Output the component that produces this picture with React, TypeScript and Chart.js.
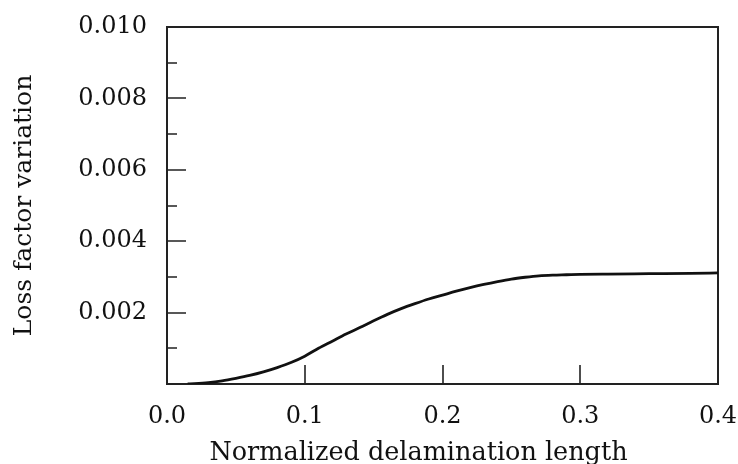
import { useEffect, useRef } from "react";
import { Chart, registerables } from "chart.js";

Chart.register(...registerables);

const delaminationLength = [
  0.015, 0.02, 0.03, 0.04, 0.05, 0.06, 0.07, 0.08, 0.09, 0.1, 0.11, 0.12, 0.13,
  0.14, 0.15, 0.16, 0.17, 0.18, 0.19, 0.2, 0.21, 0.22, 0.23, 0.24, 0.25, 0.26,
  0.27, 0.28, 0.29, 0.3, 0.32, 0.35, 0.38, 0.4,
];
const lossFactorVariation = [
  0.0, 0.00001, 0.00004, 0.00009, 0.00016, 0.00024, 0.00034, 0.00046, 0.0006,
  0.00078, 0.001, 0.0012, 0.0014, 0.00158, 0.00177, 0.00195, 0.00211, 0.00225,
  0.00238, 0.00249, 0.0026, 0.0027, 0.00279, 0.00287, 0.00294, 0.00299,
  0.00303, 0.00305, 0.00306, 0.00307, 0.00308, 0.00309, 0.0031, 0.00311,
];
const yMajorTicks = [0.002, 0.004, 0.006, 0.008];
const yMinorTicks = [0.001, 0.003, 0.005, 0.007, 0.009];
const xMajorTicks = [0.1, 0.2, 0.3];
const xTitle = "Normalized delamination length";
const yTitle = "Loss factor variation";

const FONT = '"DejaVu Serif", serif';

const framePlugin = {
  id: "frame",
  beforeDatasetsDraw(chart: any) {
    const { ctx, chartArea: a, scales } = chart;
    const x = scales.x;
    const y = scales.y;
    ctx.save();
    ctx.strokeStyle = "#222";
    ctx.lineWidth = 2;
    ctx.strokeRect(a.left, a.top, a.right - a.left, a.bottom - a.top);
    ctx.lineWidth = 1.6;
    ctx.beginPath();
    for (const v of yMajorTicks) {
      const py = Math.round(y.getPixelForValue(v));
      ctx.moveTo(a.left, py);
      ctx.lineTo(a.left + 19, py);
    }
    for (const v of yMinorTicks) {
      const py = Math.round(y.getPixelForValue(v));
      ctx.moveTo(a.left, py);
      ctx.lineTo(a.left + 10, py);
    }
    for (const v of xMajorTicks) {
      const px = Math.round(x.getPixelForValue(v));
      ctx.moveTo(px, a.bottom);
      ctx.lineTo(px, a.bottom - 19);
    }
    ctx.stroke();
    ctx.fillStyle = "#111";
    ctx.font = `25.5px ${FONT}`;
    ctx.textAlign = "center";
    ctx.textBaseline = "alphabetic";
    ctx.fillText(xTitle, (a.left + a.right) / 2 - 24, 460);
    ctx.restore();
  },
};

export default function App() {
  const canvasRef = useRef<HTMLCanvasElement | null>(null);

  useEffect(() => {
    if (!canvasRef.current) return;
    const chart = new Chart(canvasRef.current, {
      type: "line",
      data: {
        datasets: [
          {
            data: delaminationLength.map((v, i) => ({ x: v, y: lossFactorVariation[i] })),
            borderColor: "#111",
            borderWidth: 2.8,
            pointRadius: 0,
            cubicInterpolationMode: "monotone",
            fill: false,
          },
        ],
      },
      options: {
        animation: false,
        responsive: true,
        maintainAspectRatio: false,
        layout: { padding: { top: 27, right: 20, left: 0, bottom: 0 } },
        plugins: { legend: { display: false }, tooltip: { enabled: false } },
        scales: {
          x: {
            type: "linear",
            min: 0,
            max: 0.4,
            grid: { display: false, drawTicks: false },
            border: { display: false },
            ticks: {
              stepSize: 0.1,
              padding: 18,
              color: "#111",
              font: { family: FONT, size: 24 },
              callback: (v: any) => Number(v).toFixed(1),
              maxRotation: 0,
            },
            afterFit: (s: any) => {
              s.height = 80;
              s.paddingLeft = 0;
              s.paddingRight = 0;
            },
          },
          y: {
            type: "linear",
            min: 0,
            max: 0.01,
            grid: { display: false, drawTicks: false },
            border: { display: false },
            ticks: {
              stepSize: 0.002,
              padding: 20,
              color: "#111",
              font: { family: FONT, size: 24 },
              callback: (v: any) => (Number(v) === 0 ? "" : Number(v).toFixed(3)),
            },
            title: {
              display: true,
              text: yTitle,
              color: "#111",
              font: { family: FONT, size: 25 },
              padding: { top: 9, bottom: 0 },
            },
            afterFit: (s: any) => {
              s.width = 167;
              s.paddingTop = 0;
              s.paddingBottom = 0;
            },
          },
        },
      },
      plugins: [framePlugin],
    });
    return () => chart.destroy();
  }, []);

  return (
    <div style={{ position: "fixed", left: 0, top: 0, width: 738, height: 464, background: "#fff" }}>
      <canvas ref={canvasRef} />
    </div>
  );
}
